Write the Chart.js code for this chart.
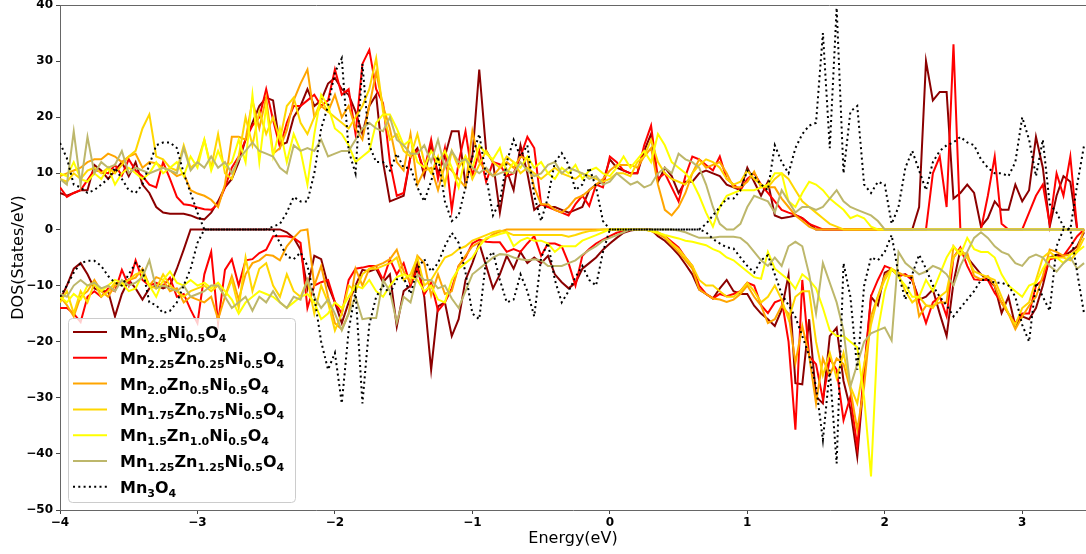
<!DOCTYPE html>
<html>
<head>
<meta charset="utf-8">
<script src="https://cdn.jsdelivr.net/npm/chart.js@4.4.1/dist/chart.umd.min.js"></script>
<style>
  html, body { margin: 0; padding: 0; background: #fff; }
  #wrap { width: 1086px; height: 554px; }
</style>
</head>
<body>
<div id="wrap"><canvas id="dosChart" width="1086" height="554"></canvas></div>
<script>
//---- energy grid (eV), step 0.05
const energy = [];
for (let i = 0; i < 150; i++) {
  energy.push(Math.round((-4 + i * 0.05) * 100) / 100);
}

const yTicks = [-50, -40, -30, -20, -10, 0, 10, 20, 30, 40];
const xTicks = [-4, -3, -2, -1, 0, 1, 2, 3];

// legend text, _{...} = subscript
const names = [
  'Mn_{2.5}Ni_{0.5}O_{4}',
  'Mn_{2.25}Zn_{0.25}Ni_{0.5}O_{4}',
  'Mn_{2.0}Zn_{0.5}Ni_{0.5}O_{4}',
  'Mn_{1.75}Zn_{0.75}Ni_{0.5}O_{4}',
  'Mn_{1.5}Zn_{1.0}Ni_{0.5}O_{4}',
  'Mn_{1.25}Zn_{1.25}Ni_{0.5}O_{4}',
  'Mn_{3}O_{4}'
];
const colors = ['#8b0000', '#ff0000', '#ffa500', '#ffd700', '#ffff00', '#bdb76b', '#000000'];

// spin up
const upMn25 = [
  6.5,6,6.5,7,7,11.5,10.5,9,10.5,12,
  9.5,12,8,6.5,4,3,2.8,2.8,2.8,2.5,
  2,1.8,3,5,7.5,9,12,16,19,22,
  23.5,23,15,15.5,20,22,25,22,23,26,
  27,25,24,21,17,22,24,12,5,5.5,
  6,13,14.5,9.5,15,10,13,17.5,17.5,8,
  13,28.5,14,12,3,10.5,7,15,10,3.5,
  4.5,4,4,3.5,3,3.5,4,7,8,8.5,
  12.5,11,10.5,10,10,14,17,8.5,11,9.5,
  6.5,8.5,8.5,10,10.5,10,9.5,8,7.5,7,
  11,8.5,6,8.5,2.5,2,2.2,2.5,2,1,
  0,0,0,0,0,0,0,0,0,0,
  0,0,0,0,0,4,30,23,24.5,24.5,
  5.5,6.5,8,6.5,0.5,2,5,3.5,3.5,8,
  5,7,16.5,11,0.5,6,9.5,8.5,0,0
];
const upMn225 = [
  7.5,5.8,6.5,7,8.8,10.6,10.3,10,11.5,9.6,
  12.5,10.5,9.5,8,7.5,12,9,5.8,4.5,4.3,
  3.9,3.6,3.5,4.5,7.5,11,13,16,18.5,20,
  25,19.5,14.7,19,22,22,23,24,22,23,
  28.5,24,25,17,29.5,32,25,22.5,12,6,
  6.5,13,14,10.5,16,9,14.5,3.5,12,17.5,
  9.5,14,8.5,12,11.6,9.5,10,13,16.5,14.5,
  4.5,4,3.5,3,2.5,4.5,6,4.2,8,7.5,
  13,12,10.5,10,10,15,18.5,9,10,7.5,
  5,9.5,13,12.5,11.5,10.5,13,9,8,7,
  9,10,8,6.5,5,3.5,3,2.6,2,1,
  0.5,0,0,0,0,0,0,0,0,0,
  0,0,0,0,0,0,0,10,13,4,
  33,0,0,0,0,6,13,1,0,0,
  0,3,6,8,1,10,6,13,0,0
];
const upMn20 = [
  9.5,10,10.5,11,12,12.5,12.5,13.5,13,12,
  13,13.5,11,12,11.8,11,10.5,9.5,10,7,
  6.4,6,5.3,4,8,16.5,16.5,16,23,18,
  23.5,13.5,14.5,17.7,23,26,28.5,20,22,21,
  24,20,22,18,16,22,28,22,18,12,
  10.5,17,8,10.5,11,7,11.5,10.5,9,7.5,
  17.5,12,10.5,9.5,11,12,11,13,12.5,7.5,
  4.5,4.5,3.5,3,4,5.5,6,7,8,9,
  10.5,11.5,11.5,11.5,11,13,14.5,8,3.5,2.5,
  4,6.5,10,12.5,11,11.5,12,10,7.5,7.5,
  8.5,10.3,7.5,7.5,7.5,5.5,4,2.5,1.5,0.5,
  0,0,0,0,0,0,0,0,0,0,
  0,0,0,0,0,0,0,0,0,0,
  0,0,0,0,0,0,0,0,0,0,
  0,0,0,0,0,0,0,0,0,0
];
const upMn175 = [
  9,8.5,10,9,10.5,11,10,11,10,11.5,
  13,14,18,20.5,13,12.5,11,10.5,15,11,
  12,16,11,17,10,9,13,20,15,21,
  17,20,16,22,23.5,19,17,20,23,21,
  20,19,18,20,22,25,30.5,21,16,17,
  14,13,17,12,10,13,8,14,11,13,
  9,11.5,14,12,11,13,12,10,11,10,
  9,10,11,10,9.5,9,10,9.5,9,8.5,
  9,10,10,9.5,12,13,16,12,10,9,
  8.5,8,10,11.5,12.5,12,11,9,8,8.5,
  10.5,9,8,7.5,9,10,9,7,5,4,
  3,2,1,0.5,0,0,0,0,0,0,
  0,0,0,0,0,0,0,0,0,0,
  0,0,0,0,0,0,0,0,0,0,
  0,0,0,0,0,0,0,0,0,0
];
const upMn15 = [
  10,9.5,12,9,8.5,10,9,11,8,10,
  11,10,9,10,12,10,11,12,9.5,13,
  11,16,10.5,14,11,12,16,12,24,12,
  22,13,18,12,17,14,8,17,24,22,
  18,17,15,12,13,14,19,20.5,20.5,18,
  15,16,12,11,14,12,14,11,7.5,13,
  11,15,13.5,12.5,14.5,10,12,11,13,11,
  12,10,9,11,10,11.5,9,10.5,11,10,
  9.5,11,13,11,12.5,14,12,17,15,12,
  11,10,8.5,6,3,0.5,4,6,6.5,7,
  7,7,7.5,8,10,10,5,4,6.5,8.5,
  8,7,5.5,4.5,3.5,2,2.5,2,0.5,0,
  0,0,0,0,0,0,0,0,0,0,
  0,0,0,0,0,0,0,0,0,0,
  0,0,0,0,0,0,0,0,0,0
];
const upMn125 = [
  9,8,17.5,8,16.5,10,12,11,11.5,14,
  10,11,10.5,10,10.5,11,10.5,10,14.5,10.5,
  12,11,13,11,12,10,12.5,14,15.5,14,
  13.5,13,11,10,15,14,14.5,14,16,13,
  13.5,14,14,16,18,19,18,17.5,20,16,
  15,13.5,13.5,15,12,16,11,14,12,12.5,
  11,10,11,9.5,10,10.5,10,12,10.5,9.5,
  10,11.5,12,10,11,10.5,10,9,9.5,8,
  8.5,10,9,8,8.5,7.5,8,10,11,10,
  13.5,12.5,12,11,8,4,1,0,0,1,
  4,6,5.5,5,3,7,5,3,4,4,
  3.5,4,5.5,7,5,4,3.5,3,2.5,1.5,
  0,0,0,0,0,0,0,0,0,0,
  0,0,0,0,0,0,0,0,0,0,
  0,0,0,0,0,0,0,0,0,0
];
const upMn3O4 = [
  15.4,12.7,8,7.5,6.5,7,8,9,11,9,
  7,6.5,8,11.5,15,15.5,15.5,14.5,10,6.5,
  3,0,0,0,0,0,0,0,0,0,
  0,0.5,1,3,5.8,5,5,10,18,22,
  28,30.5,14,10,29.5,15,12,12,10.5,13.5,
  11,11,7.5,5,8.6,13,5,1.5,2.5,7.5,
  13,17,9.5,2.5,5,12,16,13,15,6,
  1.5,5.7,12,13.6,11.5,7,8,11,7.5,1.5,
  0,0,0,0,0,0,0,0,0,0,
  0,0,0,0,1,2.5,4,5.5,5.5,7,
  10.5,9.5,8,7,15,12,10,14.5,17,18.5,
  19,35,14.5,39.5,10,21,22,8,6.5,8.5,
  8,1,4,11,14,10.5,7,12,14,15,
  15.5,16.5,15.5,15,12.5,11,10,10,9.5,12,
  20,16,9.5,16,4.5,3,0.5,0,8,15
];

// spin down
const dnMn25 = [
  -12.6,-10,-7,-6,-8,-10.5,-11,-11,-15.5,-11.5,
  -9,-10.5,-12.5,-10.5,-10,-10.5,-10,-7,-3.6,0,
  0,0,0,0,0,0,0,0,0,0,
  0,0,0,-0.5,-1.5,-3.6,-10.5,-4.7,-5.3,-10,
  -13,-16.7,-13,-10,-7.2,-7.5,-7,-9.4,-8,-17.3,
  -11,-10,-6,-12,-25,-13.7,-13,-19,-16,-9,
  -6,-2.5,-6.5,-10.5,-8,-4.7,-7,-4,-6,-5,
  -6,-4.7,-8,-9.4,-10.5,-9.5,-7,-6,-5,-3.6,
  -2.5,-1.5,-0.6,-0.2,0,0,0,-1.2,-2,-3.2,
  -4.5,-6.2,-8,-10.7,-11.5,-12.3,-10.5,-9,-11,-11.5,
  -11.5,-13.6,-15,-16,-17.2,-14.3,-8.1,-27.4,-27.6,-16,
  -29.8,-31,-19,-17.5,-27,-32,-40.5,-26,-12,-13.5,
  -7.7,-7.1,-8.3,-8,-9,-12.5,-12,-10.7,-15,-19,
  -9.5,-3.6,-5,-6.5,-8,-9,-10.1,-14.9,-12,-17.2,
  -15.5,-16,-14,-10,-5,-4.5,-4.7,-4,-3,-0.5
];
const dnMn225 = [
  -14,-14,-15,-16.5,-12,-11,-12,-10.5,-11,-7.2,
  -10,-5.5,-9,-10,-9.5,-10,-8.6,-12,-11.5,-14.3,
  -16.7,-8,-4,-16.7,-7.2,-5.3,-10,-5.5,-5.3,-4.2,
  -3.6,-1.2,-1.2,-1.2,-1.5,-2.4,-14,-10,-9.4,-9,
  -13,-15,-9,-7,-6.8,-6.5,-6.5,-9,-5.3,-8,
  -6,-10,-7,-11.6,-9.5,-14.5,-13,-10.5,-6.5,-5,
  -2.5,-1.8,-2.2,-2.3,-2.3,-4,-3.5,-4,-2.5,-1.2,
  -4.7,-2.5,-2.5,-3,-6,-10,-4.7,-3.5,-2.5,-1.8,
  -1.2,-0.6,-0.3,-0.1,0,0,-0.2,-0.6,-1.2,-2.2,
  -3.2,-5,-6.5,-10,-11.5,-12.3,-11.5,-11.9,-11.5,-11,
  -9.5,-10,-13.5,-14.9,-13,-12.5,-20,-35.7,-9,-22.6,
  -24,-30.3,-23,-25,-34,-29.8,-38.7,-25,-11.9,-9,
  -6.5,-7,-8.3,-8,-9,-13,-16.7,-13,-12,-15.5,
  -5,-3.2,-6.5,-8.9,-9,-9,-11.3,-13,-15,-16.7,
  -15,-15,-10,-9,-5.3,-5,-4.7,-3,-1.2,0
];
const dnMn20 = [
  -12,-13.5,-15.5,-12,-11,-9,-11,-12,-10,-9.5,
  -9,-8.6,-7,-10,-8.5,-9,-11,-10.5,-13,-12,
  -12.5,-13,-12,-16,-12,-8.3,-12.5,-8,-6,-5.5,
  -4.5,-4.7,-5.5,-3,-1.5,-0.2,0,-10,-6.5,-12,
  -16.7,-17.8,-15,-7,-10,-7,-6.5,-6,-5.3,-3.6,
  -7.5,-9.4,-4.7,-6,-11.8,-8,-11.5,-11,-6.5,-4.7,
  -3,-2.3,-1.8,-0.9,-0.4,0,0,0,0,0,
  0,0,0,0,0,0,0,0,0,0,
  0,0,0,0,0,0,-0.3,-0.8,-1.5,-2.8,
  -4,-5.5,-7,-10.7,-11.5,-12.3,-12.5,-12.9,-12.5,-11.5,
  -10,-12,-13.6,-16.7,-16,-13.6,-15,-23.8,-17.2,-22.5,
  -31,-23,-26,-23,-24,-28.5,-35.7,-28,-15.5,-11.9,
  -8.3,-7,-7.7,-8.3,-8.3,-15.5,-13.6,-13.6,-13,-13,
  -3,-4.5,-4.2,-8.3,-8.9,-8.3,-10,-13.1,-15,-17.8,
  -15.5,-13.6,-12,-8.3,-3.6,-4,-4.7,-4.5,-3.6,0
];
const dnMn175 = [
  -13,-11,-15,-11,-13,-9.5,-12,-11,-9.5,-10,
  -9,-8,-7.5,-10,-10.5,-8,-10,-11,-12,-11,
  -10.5,-10,-11,-10,-12,-9,-14,-5,-11,-7,
  -6,-10,-12,-8,-11,-12,-9,-15,-10,-13,
  -18,-15,-10,-11,-8,-7,-7,-6.5,-6,-5,
  -9,-8,-5,-10,-9,-7,-5,-4.5,-3.5,-3,
  -2,-1.5,-1,-0.5,-0.2,-0.5,-1,-1,-1,-1,
  -1,-1,-1,-1,-1.3,-1,-0.6,-0.3,-0.2,0,
  0,0,0,0,0,0,0,-0.5,-1.2,-2.5,
  -3.5,-5,-6.5,-9,-10,-10,-11,-12,-12,-11,
  -9.5,-11,-13,-12,-10,-12.5,-16,-12,-11,-11,
  -20,-26,-22,-26.5,-22,-28,-31,-24,-17,-12,
  -9,-7,-8,-11,-13,-12,-13.5,-14,-12,-11,
  -5,-3.5,-5,-7.5,-8,-8.5,-9,-12,-15,-17,
  -14,-13,-9,-5,-4,-5,-5,-5.5,-4,-1.5
];
const dnMn15 = [
  -12,-13,-11.5,-12.5,-10,-9.5,-11,-10,-9,-9.5,
  -11,-10.5,-8,-10,-12,-9,-7.5,-9.5,-10,-9,
  -10,-9.5,-10.5,-9.5,-11,-12.5,-15,-13,-12,-11,
  -11.5,-12,-13,-14,-13,-12,-11.5,-13,-16,-15,
  -13,-14,-12,-10,-10.5,-9,-11,-12,-10,-8.5,
  -8,-8.5,-9,-11,-10,-12.5,-13,-9,-7,-6,
  -5,-3,-1.5,-1.2,-0.8,-0.5,-3,-2,-1.5,-2,
  -2,-2.5,-4,-3,-3,-3,-2,-1.5,-1,-0.5,
  0,0,0,0,0,0,-0.3,-0.6,-1,-1.3,
  -1.6,-2,-2.2,-2.5,-2.8,-3.5,-4,-5,-5.5,-6.5,
  -7.5,-8.5,-8.8,-4,-7,-8,-9,-10.6,-8,-9,
  -10.5,-14,-18,-19,-19,-20,-21,-30,-44,-18,
  -11,-7,-8.5,-10,-12,-12,-9,-11,-8,-5,
  -3,-4.5,-1.5,-3.5,-4,-4,-5,-8,-10,-11,
  -12,-10,-9.5,-7,-5,-5,-6,-4.5,-4,-3
];
const dnMn125 = [
  -11.5,-12,-10,-9,-10,-9.5,-10.5,-10,-11,-9,
  -10,-9.5,-8.5,-5.5,-10.5,-10,-10.5,-11,-10,-12,
  -11.5,-11,-10,-10,-12,-14,-13,-12,-14.5,-12,
  -13,-11,-13,-14,-12,-12.5,-9,-12,-14,-12.5,
  -15,-18,-15,-12,-16,-15.8,-15.8,-9,-11,-16.6,
  -12,-13,-8,-9,-9,-10.5,-10,-12.3,-14,-11,
  -8,-7,-6,-5,-4.4,-4.5,-5,-5.3,-5.5,-5.3,
  -5.5,-6.5,-6.5,-6.5,-6,-5.5,-4.5,-3.7,-3,-2,
  -1.5,-1,-0.5,0,0,0,0,0,0,0,
  -0.2,-0.5,-1,-1.5,-1.5,-1.5,-1.3,-1.3,-1.3,-1.5,
  -2.5,-4,-5.5,-6.5,-5,-6.5,-3,-2.2,-3,-8,
  -15,-6,-9.5,-13,-18,-28,-24,-20,-18.5,-18,
  -17.5,-19.8,-4,-6,-7,-8,-7.5,-6.5,-7,-8,
  -10,-6.5,-4,-1.5,-0.5,-1.5,-3,-4,-4.5,-6,
  -6.5,-5,-4.5,-5,-6.5,-7.5,-6,-5,-7,-6
];
const dnMn3O4 = [
  -12,-10,-7.7,-6,-5.6,-5.6,-6.5,-8.3,-9.5,-10,
  -8,-6,-7,-13,-13.5,-14.9,-14.5,-13,-10,-7,
  -2.4,0,0,0,0,0,0,0,0,0,
  0,0,-2.4,-4.8,-5.3,-4.1,-6.5,-12,-20,-25,
  -22,-31,-18,-11,-31,-17,-12,-10,-11.5,-8.9,
  -8.6,-11.5,-7,-5.3,-7.5,-6,-3,-0.6,-2.4,-7.7,
  -15,-16,-5.3,-4,-9,-13,-12.5,-8,-11,-15.5,
  -5,-2.4,-9,-13,-11,-8.5,-6.5,-9,-10,-4,
  0,0,0,0,0,0,0,0,0,0,
  0,0,0,0,-0.5,-1.7,-2.5,-3.2,-3.4,-5,
  -6.5,-7.7,-5.5,-4.6,-8,-11.5,-13.5,-15.6,-19,-22.5,
  -28,-37.5,-25,-41.7,-6,-12,-25,-10,-5,-5.5,
  -4,-1,-8,-12.5,-8,-4.5,-7,-10,-12,-13.5,
  -15.5,-14,-12.5,-11,-9,-9,-9.5,-9.5,-10,-12,
  -17,-20,-9.5,-12,-14.5,-3,0,0,-7.7,-15
];

const upSets = [upMn25, upMn225, upMn20, upMn175, upMn15, upMn125, upMn3O4];
const dnSets = [dnMn25, dnMn225, dnMn20, dnMn175, dnMn15, dnMn125, dnMn3O4];

const toPoints = arr => arr.map((v, i) => ({ x: energy[i], y: v }));

const datasets = [];
for (let s = 0; s < names.length; s++) {
  const dotted = s === names.length - 1;
  [upSets[s], dnSets[s]].forEach((vals, k) => {
    datasets.push({
      label: names[s] + (k ? ' dn' : ' up'),
      data: toPoints(vals),
      borderColor: colors[s],
      borderWidth: 2,
      borderDash: dotted ? [2, 3.3] : [],
      borderCapStyle: 'butt',
      pointRadius: 0,
      tension: 0,
      fill: false,
      order: 100 - datasets.length // later series drawn on top
    });
  });
}

const minus = v => (v < 0 ? '\u2212' + Math.abs(v) : String(v));

// legend with subscripts + top frame line
function parseName(str) {
  const parts = [];
  const re = /([^_]+?)(?=_\{|$)|_\{([^}]*)\}/g;
  let m;
  while ((m = re.exec(str)) !== null) {
    if (m[1] !== undefined) parts.push([m[1], false]);
    else parts.push([m[2], true]);
  }
  return parts;
}

const legendPlugin = {
  id: 'dosLegend',
  afterDraw(chart) {
    const c = chart.ctx;
    const area = chart.chartArea;
    c.save();
    // top spine
    c.strokeStyle = '#666';
    c.lineWidth = 1;
    c.beginPath();
    c.moveTo(area.left, area.top + 0.5);
    c.lineTo(area.right, area.top + 0.5);
    c.stroke();

    // legend box
    const bx = 68.5, by = 318.5, bw = 227, bh = 184;
    c.beginPath();
    c.roundRect(bx, by, bw, bh, 4);
    c.fillStyle = 'rgba(255,255,255,0.8)';
    c.fill();
    c.strokeStyle = '#cccccc';
    c.lineWidth = 1;
    c.stroke();

    for (let s = 0; s < names.length; s++) {
      const cy = 332 + s * 25.8;
      c.beginPath();
      c.strokeStyle = colors[s];
      c.lineWidth = 2;
      c.lineCap = 'butt';
      c.setLineDash(s === names.length - 1 ? [2, 3.3] : []);
      c.moveTo(73, cy);
      c.lineTo(107, cy);
      c.stroke();
      c.setLineDash([]);

      let x = 120;
      const base = cy + 6;
      c.fillStyle = '#000';
      c.textBaseline = 'alphabetic';
      c.textAlign = 'left';
      for (const [txt, sub] of parseName(names[s])) {
        c.font = sub ? 'bold 11px "DejaVu Sans"' : 'bold 16px "DejaVu Sans"';
        c.fillText(txt, x, sub ? base + 4 : base);
        x += c.measureText(txt).width;
      }
    }
    c.restore();
  }
};

const tickFont = { family: 'DejaVu Sans', weight: 'bold', size: 12 };
const titleFont = { family: 'DejaVu Sans', size: 16 };

const ctx = document.getElementById('dosChart').getContext('2d');
const dosChart = new Chart(ctx, {
  type: 'line',
  data: { datasets: datasets },
  options: {
    responsive: false,
    animation: false,
    events: [],
    layout: { padding: { top: 5, right: 0, left: 0, bottom: 0 } },
    plugins: {
      legend: { display: false },
      tooltip: { enabled: false }
    },
    scales: {
      x: {
        type: 'linear',
        min: -4,
        max: 3.464,
        afterFit: scale => {
          scale.height = 44;
          scale.paddingLeft = 0;
          scale.paddingRight = 0;
        },
        afterBuildTicks: scale => { scale.ticks = xTicks.map(v => ({ value: v })); },
        border: { color: '#666', width: 1 },
        grid: { drawOnChartArea: false, tickLength: 4, color: '#444' },
        ticks: {
          padding: 2,
          color: '#000',
          maxRotation: 0,
          autoSkip: false,
          font: tickFont,
          callback: v => minus(v)
        },
        title: {
          display: true,
          text: 'Energy(eV)',
          color: '#000',
          font: titleFont,
          padding: { top: 0, bottom: 6 }
        }
      },
      y: {
        min: -50,
        max: 40,
        afterFit: scale => {
          scale.width = 60;
          scale.paddingTop = 0;
          scale.paddingBottom = 0;
        },
        afterBuildTicks: scale => { scale.ticks = yTicks.map(v => ({ value: v })); },
        border: { color: '#666', width: 1 },
        grid: { drawOnChartArea: false, tickLength: 4, color: '#444' },
        ticks: {
          padding: 3,
          color: '#000',
          autoSkip: false,
          font: tickFont,
          callback: v => minus(v)
        },
        title: {
          display: true,
          text: 'DOS(States/eV)',
          color: '#000',
          font: titleFont,
          padding: { top: 9, bottom: 0 }
        }
      }
    }
  },
  plugins: [legendPlugin]
});
</script>
</body>
</html>
